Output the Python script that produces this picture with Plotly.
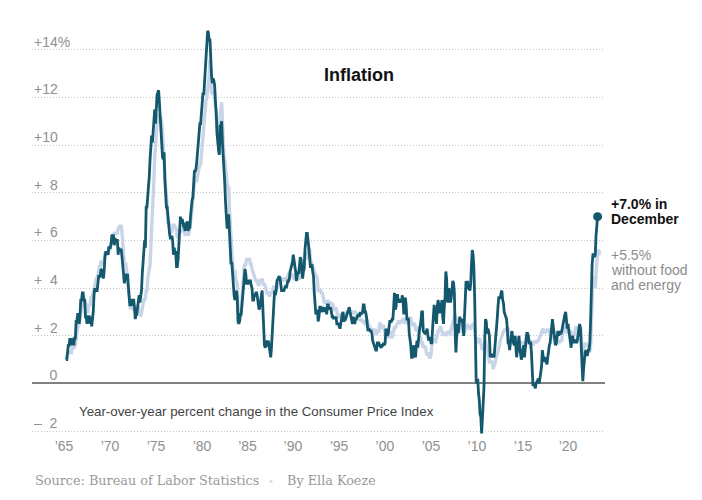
import plotly.graph_objects as go

# ---------------- DATA ----------------
START_YEAR = 1965  # monthly series, Jan 1965 .. Dec 2021

# CPI-U, year-over-year % change (all items)
headline = [
    1.0, 1.0, 1.3, 1.6, 1.6, 1.9, 1.6, 1.9, 1.6, 1.9, 1.6, 1.9,      # 1965
    1.9, 2.6, 2.6, 2.9, 2.9, 2.5, 2.9, 3.5, 3.5, 3.8, 3.8, 3.5,      # 1966
    3.5, 2.8, 2.8, 2.5, 2.8, 2.8, 2.8, 2.5, 2.8, 2.4, 2.7, 3.0,      # 1967
    3.7, 4.0, 3.9, 3.9, 3.9, 4.2, 4.5, 4.5, 4.5, 4.8, 4.7, 4.7,      # 1968
    4.4, 4.7, 5.3, 5.5, 5.5, 5.5, 5.4, 5.7, 5.7, 5.7, 5.9, 6.2,      # 1969
    6.2, 6.2, 5.8, 6.1, 6.0, 6.0, 6.0, 5.4, 5.7, 5.6, 5.6, 5.6,      # 1970
    5.3, 5.0, 4.7, 4.2, 4.4, 4.6, 4.4, 4.6, 4.1, 3.8, 3.3, 3.3,      # 1971
    3.3, 3.5, 3.5, 3.5, 3.2, 2.7, 2.9, 2.9, 3.2, 3.4, 3.7, 3.4,      # 1972
    3.6, 3.9, 4.6, 5.1, 5.5, 6.0, 5.7, 7.4, 7.4, 7.8, 8.3, 8.7,      # 1973
    9.4, 10.0, 10.4, 10.1, 10.7, 10.9, 11.5, 10.9, 12.0, 12.1, 12.2, 12.3,  # 1974
    11.8, 11.2, 10.3, 10.2, 9.5, 9.4, 9.7, 8.6, 7.9, 7.4, 7.4, 6.9,  # 1975
    6.7, 6.3, 6.1, 6.1, 6.2, 6.0, 5.4, 5.7, 5.5, 5.5, 4.9, 4.9,      # 1976
    5.2, 5.9, 6.4, 7.0, 6.7, 6.9, 6.8, 6.6, 6.6, 6.4, 6.7, 6.7,      # 1977
    6.8, 6.4, 6.6, 6.5, 7.0, 7.4, 7.7, 7.8, 8.3, 8.9, 8.9, 9.0,      # 1978
    9.3, 9.9, 10.1, 10.5, 10.9, 10.9, 11.3, 11.8, 12.2, 12.1, 12.6, 13.3,  # 1979
    13.9, 14.2, 14.8, 14.7, 14.4, 14.4, 13.1, 12.9, 12.6, 12.8, 12.7, 12.5,  # 1980
    11.8, 11.4, 10.5, 10.0, 9.8, 9.6, 10.8, 10.8, 11.0, 10.1, 9.6, 8.9,  # 1981
    8.4, 7.6, 6.8, 6.5, 6.7, 7.1, 6.4, 5.9, 5.0, 5.1, 4.6, 3.8,      # 1982
    3.7, 3.5, 3.6, 3.9, 3.6, 2.6, 2.5, 2.6, 2.9, 2.9, 3.3, 3.8,      # 1983
    4.2, 4.6, 4.8, 4.6, 4.2, 4.2, 4.2, 4.3, 4.3, 4.3, 4.1, 4.0,      # 1984
    3.5, 3.5, 3.7, 3.7, 3.8, 3.8, 3.6, 3.4, 3.1, 3.2, 3.5, 3.8,      # 1985
    3.9, 3.1, 2.3, 1.6, 1.5, 1.8, 1.6, 1.6, 1.8, 1.5, 1.3, 1.1,      # 1986
    1.5, 2.1, 3.0, 3.8, 3.9, 3.7, 3.9, 4.3, 4.4, 4.5, 4.5, 4.4,      # 1987
    4.1, 3.9, 3.9, 3.9, 3.9, 4.0, 4.1, 4.0, 4.2, 4.3, 4.3, 4.4,      # 1988
    4.7, 4.8, 5.0, 5.1, 5.4, 5.2, 5.0, 4.7, 4.3, 4.5, 4.7, 4.6,      # 1989
    5.2, 5.3, 5.2, 4.7, 4.4, 4.7, 4.8, 5.6, 6.2, 6.3, 6.3, 6.1,      # 1990
    5.7, 5.3, 4.9, 4.9, 5.0, 4.7, 4.5, 3.8, 3.4, 2.9, 3.0, 3.1,      # 1991
    2.6, 2.8, 3.2, 3.2, 3.0, 3.1, 3.2, 3.2, 3.0, 3.2, 3.1, 2.9,      # 1992
    3.3, 3.3, 3.1, 3.2, 3.2, 3.0, 2.8, 2.8, 2.7, 2.8, 2.7, 2.8,      # 1993
    2.5, 2.5, 2.5, 2.4, 2.3, 2.5, 2.8, 2.9, 3.0, 2.6, 2.7, 2.7,      # 1994
    2.8, 2.9, 2.9, 3.1, 3.2, 3.0, 2.8, 2.6, 2.5, 2.8, 2.6, 2.5,      # 1995
    2.7, 2.7, 2.8, 2.9, 2.9, 2.8, 3.0, 2.9, 3.0, 3.0, 3.3, 3.3,      # 1996
    3.0, 3.0, 2.8, 2.5, 2.2, 2.3, 2.2, 2.2, 2.2, 2.1, 1.8, 1.7,      # 1997
    1.6, 1.4, 1.4, 1.4, 1.7, 1.7, 1.7, 1.6, 1.5, 1.5, 1.6, 1.6,      # 1998
    1.7, 1.6, 1.7, 2.3, 2.1, 2.0, 2.1, 2.3, 2.6, 2.6, 2.6, 2.7,      # 1999
    2.7, 3.2, 3.8, 3.1, 3.2, 3.7, 3.7, 3.4, 3.5, 3.5, 3.5, 3.4,      # 2000
    3.7, 3.5, 2.9, 3.3, 3.6, 3.3, 2.7, 2.7, 2.7, 2.1, 1.9, 1.6,      # 2001
    1.1, 1.1, 1.5, 1.6, 1.2, 1.1, 1.5, 1.8, 1.5, 2.0, 2.2, 2.4,      # 2002
    2.6, 3.0, 3.0, 2.2, 2.1, 2.1, 2.1, 2.2, 2.3, 2.0, 1.8, 1.9,      # 2003
    1.9, 1.7, 1.7, 2.3, 3.1, 3.3, 3.0, 2.7, 2.5, 3.2, 3.5, 3.3,      # 2004
    3.0, 3.0, 3.2, 3.5, 2.8, 2.5, 3.2, 3.6, 4.7, 4.4, 3.5, 3.4,      # 2005
    4.0, 3.6, 3.4, 3.6, 4.2, 4.3, 4.2, 3.8, 2.1, 1.3, 2.0, 2.5,      # 2006
    2.1, 2.4, 2.8, 2.6, 2.7, 2.7, 2.4, 2.0, 2.8, 3.5, 4.3, 4.1,      # 2007
    4.3, 4.0, 4.0, 3.9, 4.2, 5.0, 5.6, 5.4, 4.9, 3.7, 1.1, 0.1,      # 2008
    0.0, 0.2, -0.4, -0.7, -1.3, -1.4, -2.1, -1.5, -1.3, -0.2, 1.8, 2.7,  # 2009
    2.6, 2.1, 2.3, 2.2, 2.0, 1.1, 1.2, 1.2, 1.1, 1.2, 1.1, 1.5,      # 2010
    1.6, 2.1, 2.7, 3.2, 3.6, 3.6, 3.6, 3.8, 3.9, 3.5, 3.4, 3.0,      # 2011
    2.9, 2.9, 2.7, 2.3, 1.7, 1.7, 1.4, 1.7, 2.0, 2.2, 1.8, 1.7,      # 2012
    1.6, 2.0, 1.5, 1.1, 1.4, 1.8, 2.0, 1.5, 1.2, 1.0, 1.2, 1.5,      # 2013
    1.6, 1.1, 1.5, 2.0, 2.1, 2.1, 2.0, 1.7, 1.7, 1.7, 1.3, 0.8,      # 2014
    -0.1, 0.0, -0.1, -0.2, 0.0, 0.1, 0.2, 0.2, 0.0, 0.2, 0.5, 0.7,   # 2015
    1.4, 1.0, 0.9, 1.1, 1.0, 1.0, 0.8, 1.1, 1.5, 1.6, 1.7, 2.1,      # 2016
    2.5, 2.7, 2.4, 2.2, 1.9, 1.6, 1.7, 1.9, 2.2, 2.0, 2.2, 2.1,      # 2017
    2.1, 2.2, 2.4, 2.5, 2.8, 2.9, 3.0, 2.7, 2.3, 2.5, 2.2, 1.9,      # 2018
    1.6, 1.5, 1.9, 2.0, 1.8, 1.7, 1.8, 1.8, 1.7, 1.8, 2.1, 2.3,      # 2019
    2.5, 2.3, 1.5, 0.3, 0.1, 0.6, 1.0, 1.3, 1.4, 1.2, 1.2, 1.4,      # 2020
    1.4, 1.7, 2.6, 4.2, 5.0, 5.4, 5.4, 5.3, 5.4, 6.2, 6.8, 7.0,      # 2021
]

# CPI less food and energy, year-over-year % change
core = [
    1.0, 1.2, 1.2, 1.3, 1.3, 1.3, 1.3, 1.3, 1.5, 1.5, 1.5, 1.6,      # 1965
    1.6, 1.9, 2.2, 2.2, 2.5, 2.5, 2.8, 3.1, 3.1, 3.4, 3.4, 3.3,      # 1966
    3.4, 3.4, 3.0, 3.0, 3.0, 3.3, 3.3, 3.3, 3.6, 3.6, 3.6, 3.9,      # 1967
    3.8, 4.1, 4.4, 4.4, 4.4, 4.7, 4.7, 4.9, 4.9, 5.1, 5.1, 5.1,      # 1968
    5.0, 5.0, 5.5, 5.4, 5.4, 5.5, 5.4, 5.7, 5.7, 5.6, 5.9, 6.1,      # 1969
    6.1, 6.3, 6.3, 6.3, 6.3, 6.3, 6.3, 6.5, 6.6, 6.6, 6.6, 6.6,      # 1970
    6.3, 5.8, 5.4, 5.0, 5.0, 5.0, 4.7, 4.6, 4.1, 3.6, 3.3, 3.1,      # 1971
    3.3, 3.3, 3.3, 3.1, 3.1, 3.1, 3.0, 3.0, 3.2, 3.2, 3.0, 3.0,      # 1972
    2.8, 3.0, 3.0, 3.3, 3.5, 3.5, 3.6, 3.9, 3.9, 4.4, 4.6, 4.7,      # 1973
    5.0, 5.7, 6.3, 6.9, 8.1, 8.6, 9.5, 10.2, 10.6, 10.9, 11.0, 11.1,  # 1974
    11.3, 11.2, 11.1, 11.0, 10.5, 9.9, 8.8, 8.5, 8.2, 7.9, 7.1, 6.7,  # 1975
    6.8, 6.6, 6.5, 6.3, 6.4, 6.5, 6.7, 6.6, 6.6, 6.5, 6.4, 6.1,      # 1976
    6.2, 6.4, 6.4, 6.4, 6.5, 6.4, 6.4, 6.5, 6.5, 6.2, 6.3, 6.5,      # 1977
    6.4, 6.2, 6.3, 6.5, 6.7, 7.0, 7.4, 7.8, 8.1, 8.5, 8.7, 8.5,      # 1978
    8.5, 8.7, 8.9, 9.1, 9.2, 9.2, 9.6, 9.9, 10.5, 10.9, 11.3, 11.3,  # 1979
    11.9, 12.0, 12.3, 12.8, 12.9, 13.6, 12.3, 12.2, 12.2, 12.1, 12.2, 12.2,  # 1980
    11.6, 11.2, 10.8, 10.0, 9.7, 9.6, 11.2, 11.6, 11.8, 11.0, 10.1, 9.5,  # 1981
    9.4, 8.9, 8.6, 8.4, 8.2, 8.2, 7.3, 6.6, 6.0, 5.9, 5.1, 4.5,      # 1982
    4.7, 4.7, 4.4, 4.3, 4.2, 3.1, 2.8, 2.6, 3.0, 3.0, 3.5, 4.1,      # 1983
    4.8, 4.9, 5.0, 5.0, 5.2, 5.2, 5.2, 5.2, 5.2, 5.0, 5.0, 4.8,      # 1984
    4.6, 4.6, 4.5, 4.3, 4.3, 4.3, 4.2, 4.2, 4.1, 4.3, 4.3, 4.3,      # 1985
    4.4, 4.2, 4.1, 4.2, 4.0, 4.0, 3.8, 3.8, 3.8, 3.7, 3.7, 3.8,      # 1986
    3.8, 3.8, 4.0, 4.1, 3.9, 3.8, 3.9, 4.0, 4.2, 4.3, 4.3, 4.2,      # 1987
    4.3, 4.3, 4.4, 4.4, 4.3, 4.3, 4.4, 4.4, 4.4, 4.5, 4.6, 4.7,      # 1988
    4.5, 4.6, 4.6, 4.5, 4.5, 4.4, 4.4, 4.4, 4.4, 4.4, 4.4, 4.4,      # 1989
    4.4, 4.6, 4.8, 4.8, 4.8, 5.0, 5.0, 5.4, 5.5, 5.4, 5.3, 5.2,      # 1990
    5.6, 5.6, 5.2, 5.1, 5.0, 4.8, 4.8, 4.6, 4.5, 4.5, 4.5, 4.4,      # 1991
    3.9, 3.9, 3.9, 3.9, 3.8, 3.8, 3.7, 3.5, 3.4, 3.4, 3.4, 3.3,      # 1992
    3.5, 3.4, 3.4, 3.4, 3.3, 3.4, 3.3, 3.3, 3.1, 3.1, 3.1, 3.2,      # 1993
    2.9, 2.8, 2.8, 2.8, 2.8, 2.9, 2.9, 2.9, 2.9, 2.8, 2.8, 2.6,      # 1994
    2.9, 3.0, 3.0, 3.0, 3.1, 3.0, 3.0, 3.0, 2.9, 3.0, 3.0, 3.0,      # 1995
    3.0, 2.9, 2.8, 2.7, 2.7, 2.7, 2.7, 2.6, 2.7, 2.6, 2.6, 2.6,      # 1996
    2.5, 2.5, 2.5, 2.7, 2.5, 2.4, 2.4, 2.3, 2.2, 2.3, 2.2, 2.2,      # 1997
    2.2, 2.3, 2.1, 2.1, 2.2, 2.2, 2.2, 2.5, 2.5, 2.3, 2.4, 2.4,      # 1998
    2.4, 2.1, 2.1, 2.2, 2.0, 2.0, 2.1, 1.9, 2.0, 2.1, 2.2, 1.9,      # 1999
    2.0, 2.2, 2.4, 2.3, 2.4, 2.5, 2.5, 2.6, 2.6, 2.5, 2.6, 2.6,      # 2000
    2.6, 2.7, 2.7, 2.6, 2.5, 2.7, 2.7, 2.7, 2.6, 2.6, 2.8, 2.7,      # 2001
    2.6, 2.6, 2.4, 2.5, 2.5, 2.3, 2.2, 2.4, 2.2, 2.2, 2.0, 1.9,      # 2002
    1.9, 1.7, 1.7, 1.5, 1.6, 1.5, 1.5, 1.3, 1.2, 1.3, 1.1, 1.1,      # 2003
    1.1, 1.2, 1.6, 1.8, 1.7, 1.9, 1.8, 1.7, 2.0, 2.0, 2.2, 2.2,      # 2004
    2.3, 2.4, 2.3, 2.2, 2.2, 2.0, 2.1, 2.1, 2.0, 2.1, 2.1, 2.2,      # 2005
    2.1, 2.1, 2.1, 2.3, 2.4, 2.6, 2.7, 2.8, 2.9, 2.7, 2.6, 2.6,      # 2006
    2.7, 2.7, 2.5, 2.3, 2.2, 2.2, 2.2, 2.1, 2.1, 2.2, 2.3, 2.4,      # 2007
    2.5, 2.3, 2.4, 2.3, 2.3, 2.4, 2.5, 2.5, 2.5, 2.2, 2.0, 1.8,      # 2008
    1.7, 1.8, 1.8, 1.9, 1.8, 1.7, 1.5, 1.4, 1.5, 1.7, 1.7, 1.8,      # 2009
    1.6, 1.3, 1.1, 0.9, 0.9, 0.9, 0.9, 0.9, 0.8, 0.6, 0.8, 0.8,      # 2010
    1.0, 1.1, 1.2, 1.3, 1.5, 1.6, 1.8, 2.0, 2.0, 2.1, 2.2, 2.2,      # 2011
    2.3, 2.2, 2.3, 2.3, 2.3, 2.2, 2.1, 1.9, 2.0, 2.0, 1.9, 1.9,      # 2012
    1.9, 2.0, 1.9, 1.7, 1.7, 1.6, 1.7, 1.8, 1.7, 1.7, 1.7, 1.7,      # 2013
    1.6, 1.6, 1.7, 1.8, 2.0, 1.9, 1.9, 1.7, 1.7, 1.8, 1.7, 1.6,      # 2014
    1.6, 1.7, 1.8, 1.8, 1.7, 1.8, 1.8, 1.8, 1.9, 1.9, 2.0, 2.1,      # 2015
    2.2, 2.3, 2.2, 2.1, 2.2, 2.2, 2.2, 2.3, 2.2, 2.1, 2.1, 2.2,      # 2016
    2.3, 2.2, 2.0, 1.9, 1.7, 1.7, 1.7, 1.7, 1.7, 1.8, 1.7, 1.8,      # 2017
    1.8, 1.8, 2.1, 2.1, 2.2, 2.3, 2.4, 2.2, 2.2, 2.1, 2.2, 2.2,      # 2018
    2.2, 2.1, 2.0, 2.1, 2.0, 2.1, 2.2, 2.4, 2.4, 2.3, 2.3, 2.3,      # 2019
    2.3, 2.4, 2.1, 1.4, 1.2, 1.2, 1.6, 1.7, 1.7, 1.6, 1.6, 1.6,      # 2020
    1.4, 1.3, 1.6, 3.0, 3.8, 4.5, 4.3, 4.0, 4.0, 4.6, 4.9, 5.5,      # 2021
]

x_tick_pos = [1964.79, 1969.71, 1974.64, 1979.56, 1984.43, 1989.30,
              1994.23, 1999.15, 2004.08, 2009.00, 2013.93, 2018.75]
x_tick_text = ["’65", "’70", "’75", "’80", "’85", "’90",
               "’95", "’00", "’05", "’10", "’15", "’20"]

y_tick_vals = [-2, 0, 2, 4, 6, 8, 10, 12, 14]
y_tick_text = ["–\u20072", "\u2007\u20070", "+\u20072", "+\u20074", "+\u20076",
               "+\u20078", "+10", "+12", "+14%"]

title_text = "Inflation"
subtitle_text = "Year-over-year percent change in the Consumer Price Index"
headline_label = ["+7.0% in", "December"]
core_label = ["+5.5%", "without food", "and energy"]
source_text = "Source: Bureau of Labor Statistics"
byline_text = "By Ella Koeze"

# ---------------- FIGURE ----------------
W, H = 702, 500
ML, MR, MT, MB = 32, 97, 30, 64
PW, PH = W - ML - MR, H - MT - MB


def px(xp):
    return (xp - ML) / PW


def py(yp):
    return (H - MB - yp) / PH


t = [START_YEAR + i / 12 for i in range(len(headline))]

DARK = "#14586e"
LIGHT = "#c8d5e8"
SANS = "Liberation Sans, Arial, sans-serif"
SERIF = "DejaVu Serif, Georgia, serif"
TICK_GRAY = "#8f8f8f"

fig = go.Figure()
fig.add_trace(go.Scatter(x=t, y=core, mode="lines",
                         line=dict(color=LIGHT, width=3.4), hoverinfo="skip"))
fig.add_trace(go.Scatter(x=[t[-1]], y=[core[-1]], mode="markers",
                         marker=dict(color=LIGHT, size=7), hoverinfo="skip"))
fig.add_trace(go.Scatter(x=t, y=headline, mode="lines",
                         line=dict(color=DARK, width=2.8), hoverinfo="skip"))
fig.add_trace(go.Scatter(x=[t[-1]], y=[headline[-1]], mode="markers",
                         marker=dict(color=DARK, size=9), hoverinfo="skip"))

ann = []
# y-axis labels, sitting just above their gridlines
for v, lab in zip(y_tick_vals, y_tick_text):
    ann.append(dict(text=lab, x=0, xref="paper", y=v, yref="y",
                    xanchor="left", yanchor="bottom", yshift=-2,
                    font=dict(family=SANS, size=14, color=TICK_GRAY)))
ann.append(dict(text="<b>%s</b>" % title_text, x=px(359), y=py(75),
                xanchor="center", yanchor="middle",
                font=dict(family=SANS, size=18, color="#111")))
ann.append(dict(text=subtitle_text, x=px(77), y=py(411),
                xanchor="left", yanchor="middle",
                font=dict(family=SANS, size=13.3, color="#444")))
for i, line in enumerate(headline_label):
    ann.append(dict(text="<b>%s</b>" % line, x=px(609), y=py(204 + 15 * i),
                    xanchor="left", yanchor="middle",
                    font=dict(family=SANS, size=14, color="#111")))
for i, line in enumerate(core_label):
    ann.append(dict(text=line, x=px(609), y=py(255 + 15 * i),
                    xanchor="left", yanchor="middle",
                    font=dict(family=SANS, size=14, color="#8c8c8c")))
ann.append(dict(text=source_text, x=px(33), y=py(481),
                xanchor="left", yanchor="middle",
                font=dict(family=SERIF, size=12.8, color="#999")))
ann.append(dict(text="•", x=px(271), y=py(481),
                xanchor="center", yanchor="middle",
                font=dict(family=SANS, size=11, color="#dcdcdc")))
ann.append(dict(text=byline_text, x=px(284.5), y=py(481),
                xanchor="left", yanchor="middle",
                font=dict(family=SERIF, size=12.8, color="#999")))
for a in ann:
    a.setdefault("xref", "paper")
    a.setdefault("yref", "paper")
    a["showarrow"] = False

fig.update_layout(
    width=W, height=H,
    margin=dict(l=ML, r=MR, t=MT, b=MB, pad=0),
    paper_bgcolor="white", plot_bgcolor="white",
    showlegend=False,
    annotations=ann,
    xaxis=dict(range=[1961.36, 2022.71], tickvals=x_tick_pos, ticktext=x_tick_text,
               showgrid=False, zeroline=False, showline=False, ticks="",
               tickfont=dict(family=SANS, size=14, color=TICK_GRAY),
               fixedrange=True),
    yaxis=dict(range=[-2.203, 14.83], tickvals=y_tick_vals,
               showticklabels=False,
               showgrid=True, gridcolor="#c4c4c4", griddash="1px,2px", gridwidth=1,
               zeroline=True, zerolinecolor="#808080", zerolinewidth=2,
               showline=False, ticks="",
               fixedrange=True),
)

fig.write_html("out.html")
